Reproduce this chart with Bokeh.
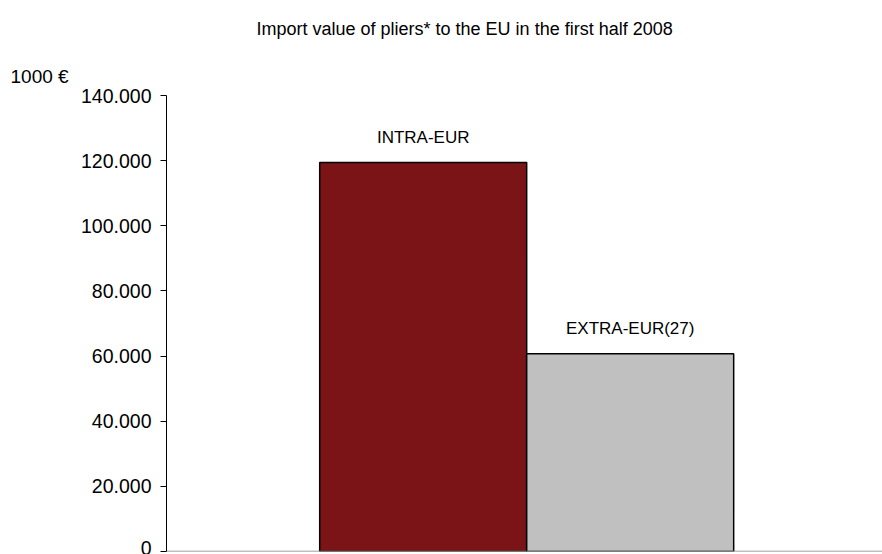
from bokeh.plotting import figure
from bokeh.models import Range1d, FixedTicker, Span, ColumnDataSource, Title
from bokeh.core.properties import value
from bokeh.embed import file_html
from bokeh.resources import INLINE

# ---- data ----
categories = ["INTRA-EUR", "EXTRA-EUR(27)"]
values = [119400, 60700]
bar_colors = ["#7B1416", "#C0C0C0"]
y_ticks = [0, 20000, 40000, 60000, 80000, 100000, 120000, 140000]
y_tick_labels = ["0", "20.000", "40.000", "60.000", "80.000", "100.000", "120.000", "140.000"]
title_text = "Import value of pliers* to the EU in the first half 2008"
unit_text = "1000 \u20ac"

FONT = "Liberation Sans"

p = figure(width=882, height=554, output_backend="svg", toolbar_location=None,
           x_range=Range1d(0, 1), y_range=Range1d(0, 140000),
           min_border_left=166, min_border_right=0, min_border_top=95, min_border_bottom=3)
p.title = None
p.xaxis.visible = False
p.xgrid.visible = False
p.ygrid.visible = False
p.outline_line_color = None
p.background_fill_color = "white"
p.border_fill_color = "white"

bar_w = 0.2891
x0 = 0.3585
xs = [x0 + i * bar_w for i in range(len(categories))]
src = ColumnDataSource(dict(x=xs, top=values, color=bar_colors, label=categories))
p.vbar(x="x", top="top", width=bar_w, bottom=0, fill_color="color",
       line_color="black", line_width=1.5, source=src)

p.text(x="x", y="top", text="label", source=src, text_align="center",
       text_baseline="alphabetic", y_offset=-25, text_font=value(FONT),
       text_font_size="17px", text_color="black")

# baseline
p.add_layout(Span(location=0, dimension="width", line_color="#808080", line_width=1.5))

ax = p.yaxis[0]
ax.ticker = FixedTicker(ticks=y_ticks)
ax.major_label_overrides = {t: l for t, l in zip(y_ticks, y_tick_labels)}
ax.major_label_text_font = FONT
ax.major_label_text_font_size = "19.5px"
ax.major_label_text_color = "black"
ax.major_tick_out = 6
ax.major_tick_in = 0
ax.minor_tick_out = 0
ax.minor_tick_in = 0
ax.major_label_standoff = 9
ax.axis_line_color = "black"
ax.major_tick_line_color = "black"

unit_title = Title(text=unit_text, align="left", offset=-156, standoff=16,
                   vertical_align="middle",
                   text_font=FONT, text_font_size="19px", text_font_style="normal",
                   text_color="black")
main_title = Title(text=title_text, align="left", offset=90, standoff=32,
                   vertical_align="top",
                   text_font=FONT, text_font_size="18px", text_font_style="normal",
                   text_color="black")
p.add_layout(unit_title, "above")
p.add_layout(main_title, "above")

open("out.html", "w").write(file_html(p, INLINE))
